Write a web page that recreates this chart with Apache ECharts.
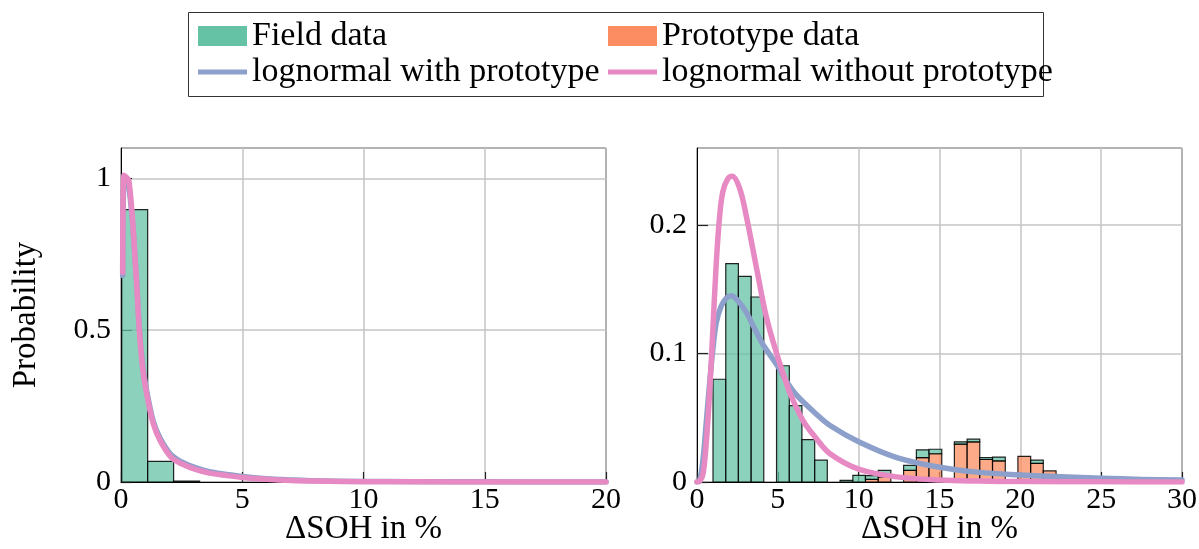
<!DOCTYPE html>
<html>
<head>
<meta charset="utf-8">
<script src="https://cdn.jsdelivr.net/npm/echarts@6/dist/echarts.min.js"></script>
<style>html,body{margin:0;padding:0;background:#fff}#c{width:1199px;height:549px}</style>
</head>
<body>
<div id="c"></div>
<script>
// ---------- data ----------
// Left panel histogram (field data): bin edges and probabilities
const leftBinEdges = [0.03, 1.10, 2.17, 3.24];
const leftField = [0.897, 0.068, 0.003];

// Right panel histogram: bin edges, field and prototype probabilities
const rightBinEdges = [0.99, 1.78, 2.56, 3.35, 4.13, 4.92, 5.71, 6.49, 7.28, 8.06, 8.85, 9.64, 10.42, 11.21,
  11.99, 12.78, 13.57, 14.35, 15.14, 15.92, 16.71, 17.49, 18.28, 19.07, 19.85, 20.64, 21.42, 22.21];
const rightField = [0.080, 0.170, 0.160, 0.144, 0, 0.0905, 0.0595, 0.033, 0.017, 0, 0.0013, 0.0052, 0.003, 0.005,
  0, 0.004, 0.006, 0.0035, 0, 0.0018, 0.002, 0.0015, 0.003, 0, 0, 0.0025, 0];
const rightProto = [0, 0, 0, 0, 0, 0, 0, 0, 0, 0, 0, 0, 0.002, 0.004,
  0, 0.009, 0.019, 0.022, 0, 0.0295, 0.0313, 0.0175, 0.0164, 0, 0.020, 0.0145, 0.0086];

// Fitted lognormal curves read as [x, y] points
const leftWith = [[0.07,0.68],[0.14,0.99],[0.33,0.97],[0.62,0.69],[0.755,0.51],[0.9,0.38],[1.06,0.30],[1.33,0.20],
  [1.61,0.145],[2.06,0.09],[2.5,0.066],[2.98,0.05],[3.6,0.035],[4.37,0.025],[5,0.018],[6,0.011],[7,0.007],[8,0.004],
  [10,0.002],[12,0.001],[15,0.0005],[20,0.0002]];
const leftWithout = [[0.07,0.69],[0.12,1.01],[0.33,0.99],[0.62,0.685],[0.755,0.50],[0.9,0.37],[1.06,0.29],[1.33,0.192],
  [1.61,0.137],[2.06,0.082],[2.5,0.06],[2.98,0.044],[3.6,0.03],[4.37,0.021],[5,0.015],[6,0.009],[7,0.005],[8,0.003],
  [10,0.001],[12,0.0005],[15,0.0002],[20,0.0001]];
const rightWith = [[0,0],[0.16,0.001],[0.37,0.017],[0.57,0.046],[0.78,0.077],[0.98,0.103],[1.19,0.124],[1.5,0.137],
  [1.8,0.143],[2.12,0.145],[2.6,0.14],[3.05,0.132],[3.5,0.121],[4.08,0.107],[5.0,0.090],[5.5,0.079],[6.13,0.068],
  [7.37,0.053],[8.23,0.044],[10,0.0313],[12.36,0.019],[15,0.0115],[17.5,0.0075],[20,0.0055],[22.5,0.004],[25,0.003],
  [27.5,0.002],[30,0.0015]];
const rightWithout = [[0,0],[0.16,0.0005],[0.37,0.006],[0.57,0.03],[0.78,0.07],[0.98,0.118],[1.19,0.17],[1.4,0.207],
  [1.6,0.226],[1.9,0.236],[2.18,0.238],[2.63,0.229],[3.05,0.207],[3.66,0.168],[4.28,0.129],[5.0,0.097],[5.5,0.078],
  [5.72,0.070],[6.55,0.048],[7.37,0.034],[8.23,0.022],[10,0.010],[12.36,0.004],[15,0.0015],[17.5,0.0007],[20,0.0003],
  [25,0.0001],[30,0]];

const leftXTicks = {min: 0, max: 20, interval: 5};
const leftYTicks = {min: 0, max: 1.1, interval: 0.5};
const rightXTicks = {min: 0, max: 30, interval: 5};
const rightYTicks = {min: 0, max: 0.26, interval: 0.1};

// ---------- styling ----------
const FONT = 'Liberation Serif';
const C_FIELD = '#66c2a5', C_PROTO = '#fc8d62', C_WITH = '#8da0cb', C_WITHOUT = '#e78ac3';
const FILL_FIELD = 'rgba(102,194,165,0.75)', FILL_PROTO = 'rgba(252,141,98,0.75)';

function barRows(edges, bottoms, tops) {
  const rows = [];
  for (let i = 0; i < tops.length; i++) rows.push([edges[i], edges[i + 1], bottoms ? bottoms[i] : 0, (bottoms ? bottoms[i] : 0) + tops[i]]);
  return rows;
}
function makeRender(fill) {
  return function (params, api) {
    const x0 = api.value(0), x1 = api.value(1), yb = api.value(2), yt = api.value(3);
    if (!(yt - yb > 0)) return null;
    const p0 = api.coord([x0, yt]);
    const p1 = api.coord([x1, yb]);
    return {type: 'rect', shape: {x: p0[0], y: p0[1], width: p1[0] - p0[0], height: p1[1] - p0[1]},
      style: {fill: fill, stroke: 'rgba(0,0,0,0.85)', lineWidth: 1.2}};
  };
}

function xAxis(idx, t) {
  return {type: 'value', gridIndex: idx, min: t.min, max: t.max, interval: t.interval,
    name: 'ΔSOH in %', nameLocation: 'middle', nameGap: 31, nameMoveOverlap: false,
    nameTextStyle: {fontFamily: FONT, fontSize: 33, color: '#000'},
    axisLine: {show: true, lineStyle: {color: '#000', width: 1}},
    axisTick: {show: true, inside: true, length: 10, lineStyle: {color: '#222', width: 1.2}},
    axisLabel: {fontFamily: FONT, fontSize: 30, color: '#000', margin: 3},
    splitLine: {show: true, lineStyle: {color: '#c4c4c4', width: 1.5}}};
}
function yAxis(idx, t, name) {
  return {type: 'value', gridIndex: idx, min: t.min, max: t.max, interval: t.interval,
    name: name, nameLocation: 'middle', nameGap: 78, nameMoveOverlap: false,
    nameTextStyle: {fontFamily: FONT, fontSize: 33, color: '#000'},
    axisLine: {show: true, lineStyle: {color: '#000', width: 1}},
    axisTick: {show: true, inside: true, length: 11, lineStyle: {color: '#222', width: 1.2}},
    axisLabel: {fontFamily: FONT, fontSize: 30, color: '#000', margin: 10, showMaxLabel: false},
    splitLine: {show: true, lineStyle: {color: '#c4c4c4', width: 1.5}}};
}
function lineSeries(name, idx, data, color) {
  return {type: 'line', name: name, xAxisIndex: idx, yAxisIndex: idx, data: data, symbol: 'none', showSymbol: false,
    smooth: 0.35, lineStyle: {color: color, width: 5.5, cap: 'round', join: 'round'}, itemStyle: {color: color},
    z: 5, silent: true, animation: false};
}
function legendAt(left, top, item, h) {
  return {left: left, top: top, padding: 0, itemWidth: 49, itemHeight: h, itemGap: 0,
    selectedMode: false, textStyle: {fontFamily: FONT, fontSize: 34, color: '#000'},
    data: [item]};
}

const chart = echarts.init(document.getElementById('c'), null, {renderer: 'canvas'});
chart.setOption({
  animation: false,
  backgroundColor: '#fff',
  graphic: [{type: 'rect', shape: {x: 188.5, y: 12.5, width: 855, height: 84},
    style: {fill: 'none', stroke: '#333', lineWidth: 1}, z: 0}],
  legend: [
    legendAt(198, 19, {name: 'Field data', icon: 'rect', itemStyle: {color: C_FIELD, borderWidth: 0, opacity: 1}}, 20),
    legendAt(608, 19, {name: 'Prototype data', icon: 'rect', itemStyle: {color: C_PROTO, borderWidth: 0, opacity: 1}}, 20),
    legendAt(198, 55, {name: 'lognormal with prototype', icon: 'rect', itemStyle: {color: C_WITH, borderWidth: 0}}, 5),
    legendAt(608, 55, {name: 'lognormal without prototype', icon: 'rect', itemStyle: {color: C_WITHOUT, borderWidth: 0}}, 5)
  ],
  grid: [
    {left: 121, right: 593, top: 148, bottom: 67, outerBoundsMode: 'none', containLabel: false,
      show: true, borderColor: '#000', borderWidth: 1, backgroundColor: 'transparent'},
    {left: 697, right: 17, top: 148, bottom: 67, outerBoundsMode: 'none', containLabel: false,
      show: true, borderColor: '#000', borderWidth: 1, backgroundColor: 'transparent'}
  ],
  xAxis: [xAxis(0, leftXTicks), xAxis(1, rightXTicks)],
  yAxis: [yAxis(0, leftYTicks, 'Probability'), yAxis(1, rightYTicks, '')],
  series: [
    {type: 'custom', name: 'Field data', xAxisIndex: 0, yAxisIndex: 0, renderItem: makeRender(FILL_FIELD),
      data: barRows(leftBinEdges, null, leftField), encode: {x: [0, 1], y: [2, 3]}, itemStyle: {color: C_FIELD}, z: 2},
    {type: 'custom', name: 'Prototype data', xAxisIndex: 1, yAxisIndex: 1, renderItem: makeRender(FILL_PROTO),
      data: barRows(rightBinEdges, null, rightProto), encode: {x: [0, 1], y: [2, 3]}, itemStyle: {color: C_PROTO}, z: 2},
    {type: 'custom', name: 'Field data', xAxisIndex: 1, yAxisIndex: 1, renderItem: makeRender(FILL_FIELD),
      data: barRows(rightBinEdges, rightProto, rightField), encode: {x: [0, 1], y: [2, 3]}, itemStyle: {color: C_FIELD}, z: 2},
    lineSeries('lognormal with prototype', 0, leftWith, C_WITH),
    lineSeries('lognormal with prototype', 1, rightWith, C_WITH),
    lineSeries('lognormal without prototype', 0, leftWithout, C_WITHOUT),
    lineSeries('lognormal without prototype', 1, rightWithout, C_WITHOUT)
  ]
});
</script>
</body>
</html>
